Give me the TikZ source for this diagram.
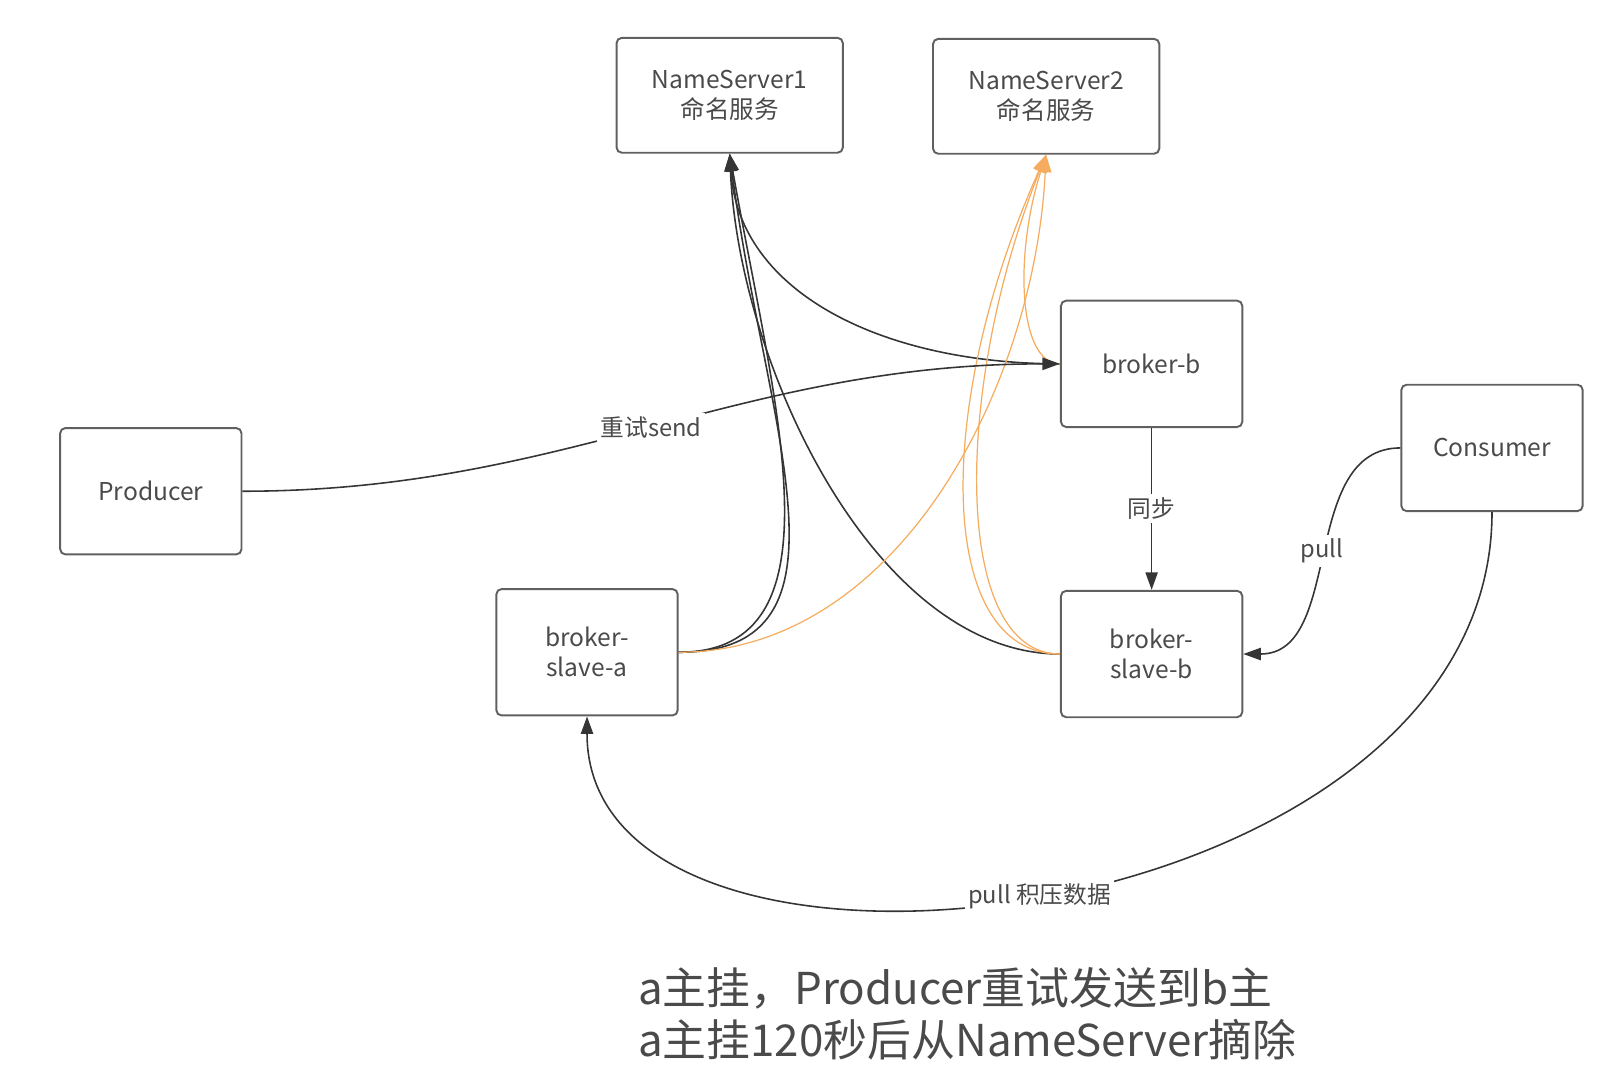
\documentclass[tikz,border=0pt]{standalone}
\usepackage{fontspec}
\setmainfont{Noto Sans CJK SC}
\usetikzlibrary{arrows.meta,positioning}

\definecolor{boxline}{HTML}{606060}
\definecolor{wire}{HTML}{353535}
\definecolor{ink}{HTML}{4A4A4A}
\definecolor{nsorange}{HTML}{F5AC5E}

\begin{document}
\begin{tikzpicture}[
    x=0.0204cm, y=-0.0204cm,
    font=\fontsize{14}{17}\selectfont,
    node distance=3.24cm and 1cm,
    box/.style={draw=boxline, line width=1.1pt, rounded corners=3pt, align=center, text=ink, minimum width=3.63cm, minimum height=2.53cm, inner sep=2pt},
    nsbox/.style={box, minimum width=4.53cm, minimum height=2.3cm},
    flow/.style={-{Triangle[length=10pt,width=7pt]}, draw=wire, line width=0.9pt},
    regflow/.style={-{Triangle[length=10pt,width=7pt]}, draw=nsorange, line width=0.7pt},
    tag/.style={fill=white, text=ink, inner sep=2pt, font=\fontsize{13.5}{16}\selectfont}
  ]
  \useasboundingbox (0,0) rectangle (1568,1056);

  % Name servers
  \node[nsbox] (ns1) at (716,93.5) {NameServer1\\命名服务};
  \node[nsbox] (ns2) at (1026.5,94.5) {NameServer2\\命名服务};

  % Brokers
  \node[box] (brokerb) at (1130,357) {broker-b};
  \node[box, below=of brokerb] (slaveb) {broker-\\slave-b};
  \node[box] (slavea) at (576,640) {broker-\\slave-a};

  % Clients
  \node[box] (producer) at (148,482) {Producer};
  \node[box] (consumer) at (1464,439.5) {Consumer};

  % Register with NameServer1
  \draw[flow] (brokerb.west) .. controls +(-171,0) and +(9,138) .. (ns1.south);
  \draw[flow] (slavea.east) .. controls +(185,0) and +(34,268) .. (ns1.south);
  \draw[flow] (slavea.east) .. controls +(165,0) and +(44,248) .. (ns1.south);
  \draw[flow] (slaveb.west) .. controls +(-181,0) and +(9,208) .. (ns1.south);

  % Register with NameServer2
  \draw[regflow] (slavea.east) .. controls +(215,0) and +(-11.5,228) .. (ns2.south);
  \draw[regflow] (slaveb.west) .. controls +(-121,0) and +(-111.5,248) .. (ns2.south);
  \draw[regflow] (slaveb.west) .. controls +(-106,0) and +(-91.5,228) .. (ns2.south);
  \draw[regflow] (brokerb.west) .. controls +(-41,0) and +(-31.5,98) .. (ns2.south);

  % Send, sync and pull
  \draw[flow] (producer.east) to[out=0,in=180] node[tag]{重试send} (brokerb.west);
  \draw[flow] (brokerb) -- node[tag]{同步} (slaveb);
  \draw[flow] (consumer.west) to[out=180,in=0] node[tag]{pull} (slaveb.east);
  \draw[flow] (consumer.south) .. controls +(0,419) and +(0,318) .. node[tag]{pull 积压数据} (slavea.south);

  % Note
  \node[anchor=west, align=left, text=ink, font=\fontsize{25}{29.5}\selectfont] (note) at (620,995) {a主挂，Producer重试发送到b主\\a主挂120秒后从NameServer摘除};

\end{tikzpicture}
\end{document}
